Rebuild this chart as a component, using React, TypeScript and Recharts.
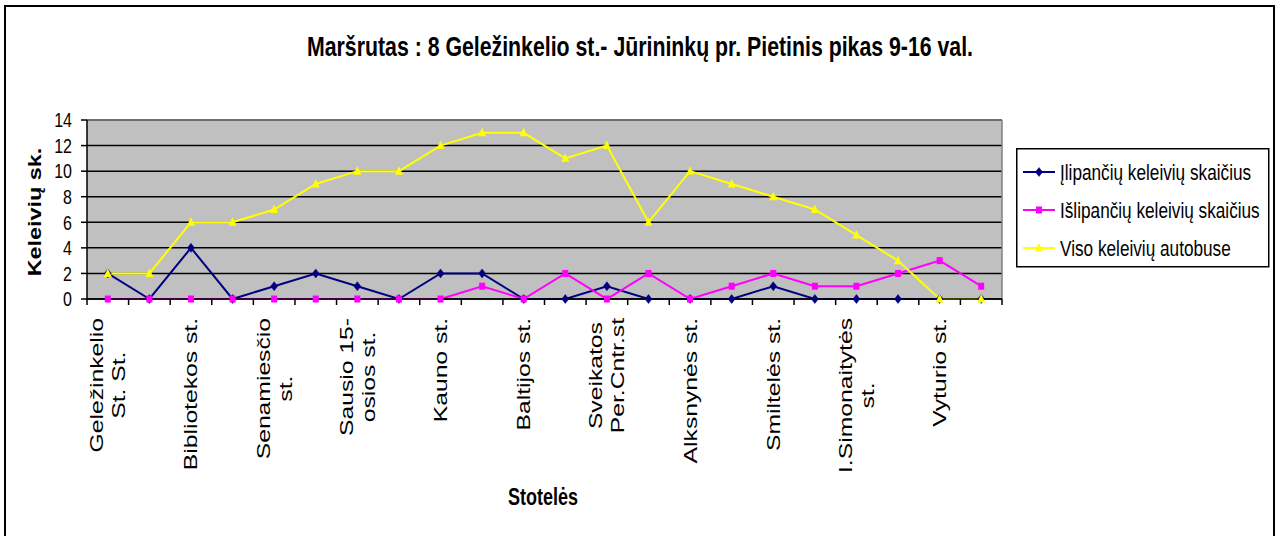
import React, { useLayoutEffect, useRef, useState } from "react";
import {
  LineChart,
  Line,
  XAxis,
  YAxis,
  CartesianGrid,
  ReferenceLine,
  Legend,
} from "recharts";

// ---------------- data ----------------
const stops: string[] = [
  "Geležinkelio\nSt. St.",
  "",
  "Bibliotekos st.",
  "",
  "Senamiesčio\nst.",
  "",
  "Sausio 15-\nosios st.",
  "",
  "Kauno st.",
  "",
  "Baltijos st.",
  "",
  "Sveikatos\nPer.Cntr.st",
  "",
  "Alksnynės st.",
  "",
  "Smiltelės st.",
  "",
  "I.Simonaitytės\nst.",
  "",
  "Vyturio st.",
  "",
];
const boarding = [2, 0, 4, 0, 1, 2, 1, 0, 2, 2, 0, 0, 1, 0, 0, 0, 1, 0, 0, 0, 0, 0];
const alighting = [0, 0, 0, 0, 0, 0, 0, 0, 0, 1, 0, 2, 0, 2, 0, 1, 2, 1, 1, 2, 3, 1];
const onBus = [2, 2, 6, 6, 7, 9, 10, 10, 12, 13, 13, 11, 12, 6, 10, 9, 8, 7, 5, 3, 0, 0];
const yTicks = [0, 2, 4, 6, 8, 10, 12, 14];
const seriesNames = [
  "Įlipančių keleivių skaičius",
  "Išlipančių keleivių skaičius",
  "Viso keleivių autobuse",
];
const title = "Maršrutas : 8 Geležinkelio st.- Jūrininkų pr. Pietinis pikas 9-16 val.";
const yTitle = "Keleivių sk.";
const xTitle = "Stotelės";

// ---------------- styling ----------------
const W = 1283;
const H = 536;
const K = 1.3; // text stretch along the vertical direction of the picture
const FONT = "'Liberation Sans', Arial, Helvetica, sans-serif";
const NAVY = "#000080";
const MAGENTA = "#FF00FF";
const YELLOW = "#FFFF00";

const data = stops.map((s, i) => ({
  idx: i,
  name: s,
  boarding: boarding[i],
  alighting: alighting[i],
  onBus: onBus[i],
}));

const edges = [...stops.map((_, i) => i - 0.5), stops.length - 0.5];
const labelIdx = stops.map((s, i) => (s ? i : -1)).filter((i) => i >= 0);
const xTicks = [...edges, ...labelIdx].sort((a, b) => a - b);

// ---------------- markers ----------------
const Diamond = ({ cx, cy }: { cx: number; cy: number }) => (
  <polygon
    points={`${cx},${cy - 4.5} ${cx + 3.5},${cy} ${cx},${cy + 4.5} ${cx - 3.5},${cy}`}
    fill={NAVY}
    stroke={NAVY}
    strokeWidth={0.5}
  />
);
const Square = ({ cx, cy }: { cx: number; cy: number }) => (
  <rect x={cx - 3} y={cy - 3.5} width={6} height={7} fill={MAGENTA} />
);
const Triangle = ({ cx, cy }: { cx: number; cy: number }) => (
  <polygon
    points={`${cx},${cy - 5} ${cx + 4},${cy + 3.5} ${cx - 4},${cy + 3.5}`}
    fill={YELLOW}
  />
);

const seriesDefs = [
  { key: "boarding", name: seriesNames[0], color: NAVY, Marker: Diamond },
  { key: "alighting", name: seriesNames[1], color: MAGENTA, Marker: Square },
  { key: "onBus", name: seriesNames[2], color: YELLOW, Marker: Triangle },
];

// ---------------- ticks ----------------
function RotLabel({ x, y, text }: { x: number; y: number; text: string }) {
  const lines = text.split("\n");
  const refs = useRef<(SVGTextElement | null)[]>([]);
  const [maxLen, setMaxLen] = useState(0);
  useLayoutEffect(() => {
    let m = 0;
    refs.current.forEach((el) => {
      if (el) m = Math.max(m, el.getComputedTextLength());
    });
    if (Math.abs(m - maxLen) > 0.5) setMaxLen(m);
  });
  const lh = 22;
  return (
    <g transform={`translate(${x},${y}) rotate(-90) scale(${K},1)`}>
      {lines.map((ln, i) => (
        <text
          key={i}
          ref={(el) => {
            refs.current[i] = el;
          }}
          x={-maxLen / 2}
          y={(i - (lines.length - 1) / 2) * lh}
          textAnchor="middle"
          dominantBaseline="central"
          fontSize={19}
          fontFamily={FONT}
          fill="#000"
        >
          {ln}
        </text>
      ))}
    </g>
  );
}

function XTick(props: any) {
  const { x, y, payload } = props;
  const v = payload.value as number;
  if (!Number.isInteger(v)) {
    return <line x1={x} x2={x} y1={y} y2={y + 6} stroke="#000" strokeWidth={1.5} />;
  }
  const label = stops[v];
  if (!label) return <g />;
  return <RotLabel x={x} y={y + 19} text={label} />;
}

function YTick(props: any) {
  const { x, y, payload } = props;
  return (
    <text
      transform={`translate(${x},${y}) scale(1,${K})`}
      textAnchor="end"
      dominantBaseline="central"
      fontSize={16}
      fontFamily={FONT}
      fill="#000"
    >
      {payload.value}
    </text>
  );
}

// ---------------- legend ----------------
function LegendBox() {
  const bw = 252;
  const bh = 118;
  const rows = [24, 62, 100];
  return (
    <svg width={bw + 2} height={bh + 2} style={{ display: "block" }}>
      <rect x={0.75} y={0.75} width={bw} height={bh} fill="#fff" stroke="#000" strokeWidth={1.5} />
      {seriesDefs.map((s, i) => {
        const cy = rows[i];
        const M = s.Marker;
        return (
          <g key={s.key}>
            <line x1={7} x2={39} y1={cy} y2={cy} stroke={s.color} strokeWidth={2} />
            <M cx={23} cy={cy} />
            <text
              transform={`translate(44,${cy}) scale(1,${K})`}
              dominantBaseline="central"
              fontSize={17.2}
              fontFamily={FONT}
              fill="#000"
            >
              {s.name}
            </text>
          </g>
        );
      })}
    </svg>
  );
}

export default function App() {
  return (
    <div
      style={{
        position: "absolute",
        left: 0,
        top: 0,
        width: W,
        height: H,
        background: "#fff",
        overflow: "hidden",
      }}
    >
      <LineChart
        width={W}
        height={H}
        data={data}
        margin={{ top: 120, right: 281, bottom: 37, left: 0 }}
      >
        <CartesianGrid
          horizontal={true}
          vertical={false}
          stroke="#000"
          strokeWidth={1.5}
          fill="#C0C0C0"
          fillOpacity={1}
        />
        <XAxis
          dataKey="idx"
          type="number"
          domain={[-0.5, stops.length - 0.5]}
          ticks={xTicks}
          interval={0}
          height={200}
          tickSize={0}
          tickMargin={0}
          tickLine={false}
          axisLine={{ stroke: "#000", strokeWidth: 1.5 }}
          tick={(p: any) => <XTick {...p} />}
        />
        <YAxis
          type="number"
          domain={[0, 14]}
          ticks={yTicks}
          interval={0}
          width={87}
          tickSize={6}
          tickMargin={9}
          axisLine={{ stroke: "#000", strokeWidth: 1.5 }}
          tickLine={{ stroke: "#000", strokeWidth: 1.5 }}
          tick={(p: any) => <YTick {...p} />}
        />
        <ReferenceLine y={14} stroke="#808080" strokeWidth={1.5} />
        <ReferenceLine x={stops.length - 0.5} stroke="#808080" strokeWidth={1.5} />
        {seriesDefs.map((s) => (
          <Line
            key={s.key}
            type="linear"
            dataKey={s.key}
            name={s.name}
            stroke={s.color}
            strokeWidth={2}
            isAnimationActive={false}
            dot={(p: any) => <s.Marker key={`${s.key}-${p.index}`} cx={p.cx} cy={p.cy} />}
            activeDot={false}
          />
        ))}
        <Legend
          layout="horizontal"
          verticalAlign="middle"
          align="center"
          content={() => <LegendBox />}
          wrapperStyle={{ left: 1016, top: 148, width: 254, height: 120 }}
        />
      </LineChart>
      <svg
        width={W}
        height={H}
        style={{ position: "absolute", left: 0, top: 0, pointerEvents: "none" }}
      >
        <rect x={5} y={6} width={1269} height={560} fill="none" stroke="#000" strokeWidth={2} />
        <text
          transform={`translate(640,56) scale(1,${K})`}
          textAnchor="middle"
          fontSize={21.3}
          fontWeight="bold"
          fontFamily={FONT}
          fill="#000"
        >
          {title}
        </text>
        <text
          transform={`translate(35,212) rotate(-90) scale(${K},1)`}
          textAnchor="middle"
          dominantBaseline="central"
          fontSize={18}
          fontWeight="bold"
          fontFamily={FONT}
          fill="#000"
        >
          {yTitle}
        </text>
        <text
          transform={`translate(543,505) scale(1,${K})`}
          textAnchor="middle"
          fontSize={18}
          fontWeight="bold"
          fontFamily={FONT}
          fill="#000"
        >
          {xTitle}
        </text>
      </svg>
    </div>
  );
}
